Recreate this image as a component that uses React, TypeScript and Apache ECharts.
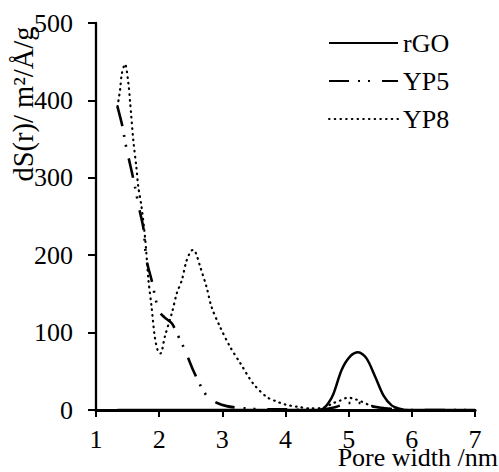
import React, { useEffect, useRef } from "react";
import * as echarts from "echarts";

const seriesNames = ["rGO", "YP5", "YP8"];

const rgoX = [1.34, 3.0, 4.5, 4.6, 4.68, 4.76, 4.89, 5.02, 5.15, 5.28, 5.42, 5.55, 5.68, 5.79, 5.9, 7.0];
const rgoY = [0, 0, 0, 2, 9, 21, 52, 69, 74.5, 67, 43, 19, 6, 2, 0, 0];

const yp5X = [1.34, 1.42, 1.45, 1.48, 1.56, 1.62, 1.69, 1.75, 1.8, 1.88, 1.99, 2.08, 2.2, 2.28, 2.36, 2.43, 2.54, 2.61, 2.69, 2.78, 2.92, 3.07, 3.24, 3.4, 3.6, 3.9, 4.3, 4.6, 4.8, 5.0, 5.18, 5.35, 5.5, 5.7, 6.0, 7.0];
const yp5Y = [392, 366, 352, 339, 310, 287, 258, 235, 194, 168, 129, 120, 112, 99, 86, 73, 51, 39, 26, 16, 9, 5, 3, 2, 1, 1, 0, 1, 4, 9, 9, 5, 3, 1, 0, 0];

const yp8X = [1.34, 1.38, 1.41, 1.46, 1.51, 1.54, 1.59, 1.64, 1.67, 1.72, 1.78, 1.83, 1.88, 1.93, 1.98, 2.02, 2.09, 2.2, 2.28, 2.36, 2.43, 2.5, 2.54, 2.58, 2.65, 2.75, 2.83, 2.96, 3.12, 3.28, 3.49, 3.7, 3.86, 4.0, 4.2, 4.4, 4.6, 4.76, 4.86, 4.99, 5.1, 5.2, 5.34, 5.5, 5.7, 6.0, 7.0];
const yp8Y = [392, 413, 435, 447, 424, 398, 349, 313, 288, 263, 220, 168, 133, 95, 76, 73, 95, 125, 151, 168, 192, 205, 207, 203, 185, 159, 133, 108, 82, 61, 34, 17, 11, 7, 4, 2, 3, 9, 12, 16, 14, 11, 6, 3, 1, 0, 0];

const xTicks = { min: 1, max: 7, interval: 1 };
const yTicks = { min: 0, max: 500, interval: 100 };

const xName = "Pore width /nm";
const yName = "dS(r)/ m²/Å/g";

const pairs = (xs: number[], ys: number[]) => xs.map((x, i) => [x, ys[i]]);

const FONT = "serif";

export default function App() {
  const ref = useRef<HTMLDivElement>(null);
  useEffect(() => {
    document.body.style.margin = "0";
    if (!ref.current) return;
    const chart = echarts.init(ref.current, undefined, { renderer: "svg" });
    chart.setOption({
      animation: false,
      backgroundColor: "#fff",
      textStyle: { fontFamily: FONT, color: "#000" },
      grid: { left: 96, right: 24, top: 23, bottom: 62, containLabel: false, outerBoundsMode: "none" },
      legend: {
        orient: "vertical",
        left: 328,
        top: 30,
        padding: 0,
        itemWidth: 69,
        itemHeight: 14,
        itemGap: 12,
        data: seriesNames,
        itemStyle: { opacity: 0 },
        textStyle: { fontFamily: FONT, fontSize: 26, color: "#000", lineHeight: 26 },
      },
      xAxis: {
        type: "value",
        min: xTicks.min,
        max: xTicks.max,
        interval: xTicks.interval,
        axisLine: { show: true, lineStyle: { color: "#000", width: 3.2 } },
        axisTick: { show: true, inside: false, length: 7, lineStyle: { color: "#000", width: 2 } },
        axisLabel: { fontFamily: FONT, fontSize: 26, color: "#000", margin: 16 },
        splitLine: { show: false },
      },
      yAxis: {
        type: "value",
        min: yTicks.min,
        max: yTicks.max,
        interval: yTicks.interval,
        axisLine: { show: true, lineStyle: { color: "#000", width: 2.3 } },
        axisTick: { show: true, inside: false, length: 8, lineStyle: { color: "#000", width: 2 } },
        axisLabel: { fontFamily: FONT, fontSize: 26, color: "#000", margin: 23 },
        splitLine: { show: false },
      },
      graphic: [
        {
          type: "text",
          x: 23,
          y: 104,
          rotation: Math.PI / 2,
          style: {
            text: yName,
            fontFamily: FONT,
            fontSize: 28.5,
            fill: "#000",
            textAlign: "center",
            textVerticalAlign: "middle",
          },
        },
        {
          type: "text",
          x: 498,
          y: 457,
          style: {
            text: xName,
            fontFamily: FONT,
            fontSize: 26,
            fill: "#000",
            textAlign: "right",
            textVerticalAlign: "middle",
          },
        },
      ],
      series: [
        {
          name: "rGO",
          type: "line",
          symbol: "none",
          smooth: 0.3,
          data: pairs(rgoX, rgoY),
          lineStyle: { color: "#000", width: 2.5, type: "solid" },
          itemStyle: { color: "#000" },
          z: 3,
        },
        {
          name: "YP5",
          type: "line",
          symbol: "none",
          smooth: 0.3,
          data: pairs(yp5X, yp5Y),
          lineStyle: { color: "#000", width: 2.6, type: [20, 9, 2, 8, 2, 12], cap: "butt" },
          itemStyle: { color: "#000" },
          z: 2,
        },
        {
          name: "YP8",
          type: "line",
          symbol: "none",
          smooth: 0.3,
          data: pairs(yp8X, yp8Y),
          lineStyle: { color: "#000", width: 2.2, type: [0.6, 5.1], cap: "round" },
          itemStyle: { color: "#000" },
          z: 2,
        },
      ],
    });
    return () => chart.dispose();
  }, []);
  return <div ref={ref} style={{ width: 499, height: 472 }} />;
}
